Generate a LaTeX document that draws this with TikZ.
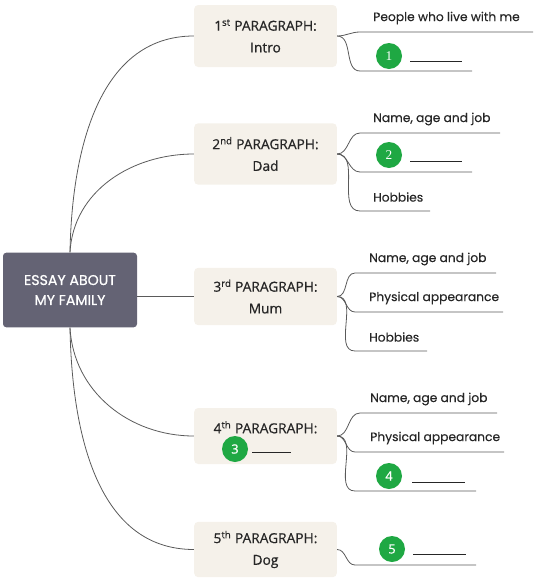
\documentclass[tikz,border=0pt]{standalone}
\usepackage{fontspec}
\setmainfont{Open Sans}[FakeBold=0.7]
\newfontfamily\leaffont{Poppins}[FakeBold=0.3]
\newfontfamily\rootfont{Poppins}[FakeBold=0.8]
\newfontfamily\numserif{Liberation Serif}
\usetikzlibrary{positioning}
\definecolor{rootfill}{HTML}{646374}
\definecolor{boxfill}{HTML}{F5F1EA}
\definecolor{branchgray}{HTML}{5A5A5A}
\definecolor{blankgreen}{HTML}{1FA843}
\definecolor{inkdark}{HTML}{262626}

\begin{document}
\begin{tikzpicture}[x=0.75pt,y=-0.75pt, every node/.style={align=center,text=inkdark}, root/.style={fill=rootfill,rounded corners=2.5pt,minimum width=100.5pt,minimum height=56pt,text=white,font=\rootfont\fontsize{10.6}{15}\selectfont}, parbox/.style={fill=boxfill,rounded corners=3pt,minimum width=107pt,minimum height=43pt,font=\fontsize{10.3}{16.3}\selectfont}, leaf/.style={font=\leaffont\fontsize{9.2}{10}\selectfont,anchor=west,inner sep=0pt}, num/.style={circle,fill=blankgreen,text=white,minimum size=19.5pt,inner sep=0pt,font=\fontsize{9.5}{9.5}\selectfont}, blank/.style={anchor=south west,inner sep=0pt}, branch/.style={draw=branchgray,line width=0.6pt}]
\useasboundingbox (0,0) rectangle (533,579);
\node[root] (root) at (70,290) {ESSAY ABOUT\\MY FAMILY};
\node[parbox,minimum height=46.5pt] (p1) at (265.5,36) {1\textsuperscript{st} PARAGRAPH:\\Intro};
\node[parbox,minimum height=46pt] (p2) at (265.5,154) {2\textsuperscript{nd} PARAGRAPH:\\Dad};
\node[parbox] (p3) at (265.5,296.5) {3\textsuperscript{rd} PARAGRAPH:\\Mum};
\node[parbox,minimum height=42pt] (p4) at (265.5,436) {4\textsuperscript{th} PARAGRAPH:\\[-3pt]\mbox{}};
\node[parbox,minimum height=41.5pt] (p5) at (265.5,549.5) {5\textsuperscript{th} PARAGRAPH:\\Dog};
\node[num] (n3) at (235,449) {3};
\node[blank] (b3) at (252,453) {\rule{29pt}{0.6pt}};
\draw[branch] (root.north) to[out=89,in=180] (p1.west);\draw[branch] (root.north) to[out=87,in=180] (p2.west);\draw[branch] (p3.west -| root.east) -- (p3.west);\draw[branch] (root.south) to[out=-87,in=180] (p4.west);\draw[branch] (root.south) to[out=-89,in=180] (p5.west);
\coordinate (a1) at (360,32);\coordinate (a1e) at (533,32);
\coordinate (a2) at (360,71);\coordinate (a2e) at (472,71);
\node[leaf] (ta1) at (373,18) {People who live with me};
\node[num,font=\numserif\fontsize{10}{10}\selectfont] (n1) at (389,56) {1};
\node[blank] (b1) at (410,62) {\rule{39pt}{0.6pt}};
\draw[branch] (p1.east) to[out=0,in=180] (a1) -- (a1e);\draw[branch] (p1.east) to[out=0,in=180] (a2) -- (a2e);
\coordinate (c1) at (360,133);\coordinate (c1e) at (500,133);
\coordinate (c2) at (360,172);\coordinate (c2e) at (472,172);
\coordinate (c3) at (360,211);\coordinate (c3e) at (430,211);
\node[leaf] (tc1) at (373,119) {Name, age and job};
\node[num,font=\numserif\fontsize{10}{10}\selectfont] (n2) at (389,155) {2};
\node[blank] (b2) at (410,162) {\rule{39pt}{0.6pt}};
\node[leaf] (tc3) at (373,197) {Hobbies};
\draw[branch] (p2.east) to[out=0,in=180] (c1) -- (c1e);\draw[branch] (p2.east) to[out=0,in=180] (c2) -- (c2e);\draw[branch] (p2.east) to[out=0,in=180] (c3) -- (c3e);
\coordinate (d1) at (355,273);\coordinate (d1e) at (496,273);
\coordinate (d2) at (355,312);\coordinate (d2e) at (503,312);
\coordinate (d3) at (355,351);\coordinate (d3e) at (427,351);
\node[leaf] (td1) at (369,259) {Name, age and job};
\node[leaf] (td2) at (369,298) {Physical appearance};
\node[leaf] (td3) at (369,337) {Hobbies};
\draw[branch] (p3.east) to[out=0,in=180] (d1) -- (d1e);\draw[branch] (p3.east) to[out=0,in=180] (d2) -- (d2e);\draw[branch] (p3.east) to[out=0,in=180] (d3) -- (d3e);
\coordinate (e1) at (360,413);\coordinate (e1e) at (497,413);
\coordinate (e2) at (355,452);\coordinate (e2e) at (504,452);
\coordinate (e3) at (355,491);\coordinate (e3e) at (476,491);
\node[leaf] (te1) at (370,399) {Name, age and job};
\node[leaf] (te2) at (370,438) {Physical appearance};
\node[num] (n4) at (389,476) {4};
\node[blank] (b4) at (412,483) {\rule{39.5pt}{0.6pt}};
\draw[branch] (p4.east) to[out=0,in=180] (e1) -- (e1e);\draw[branch] (p4.east) to[out=0,in=180] (e2) -- (e2e);\draw[branch] (p4.east) to[out=0,in=180] (e3) -- (e3e);
\coordinate (f1) at (355,565);\coordinate (f1e) at (476,565);
\node[num] (n5) at (392,549) {5};
\node[blank] (b5) at (413,555) {\rule{39.5pt}{0.6pt}};
\draw[branch] (p5.east) to[out=0,in=180] (f1) -- (f1e);
\end{tikzpicture}
\end{document}
